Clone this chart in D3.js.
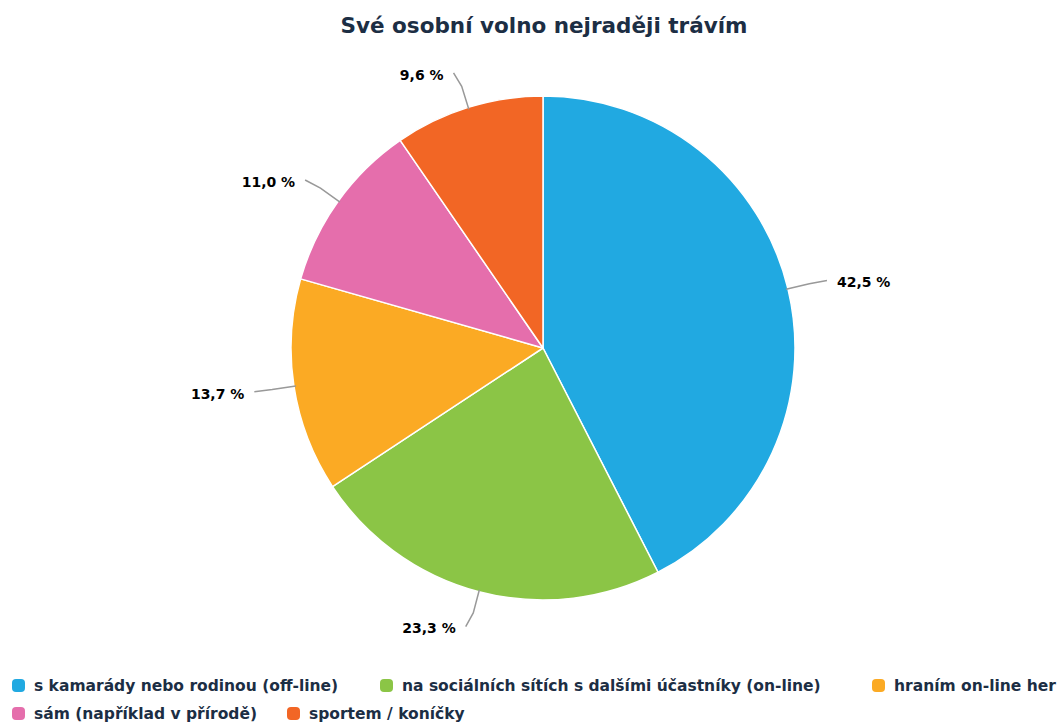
<html>
<head>
  <meta charset="utf-8">
  <title>Své osobní volno nejraději trávím</title>
  <script src="https://d3js.org/d3.v7.min.js" charset="utf-8"></script>
  <style>
    body { margin: 0; background: #fff; overflow: hidden; }
    text { font-family: "DejaVu Sans", sans-serif; font-weight: bold; }
  </style>
</head>
<body>
  <script>
    // data
    var categories = [
      "s kamarády nebo rodinou (off-line)",
      "na sociálních sítích s dalšími účastníky (on-line)",
      "hraním on-line her",
      "sám (například v přírodě)",
      "sportem / koníčky"
    ];
    var values = [42.5, 23.3, 13.7, 11.0, 9.6];
    var colors = ["#21a9e1", "#8bc546", "#fbaa24", "#e56eac", "#f26625"];

    // legend layout (rows break like the original, last row item overflows)
    var legendX = [12, 380, 872, 12, 287];
    var legendRow = [0, 0, 0, 1, 1];

    var width = 1061,
        height = 726;

    var svg = d3.select("body")
                .append("svg")
                .attr("width", width)
                .attr("height", height);

    svg.append("text")
       .attr("x", 544)
       .attr("y", 33)
       .attr("text-anchor", "middle")
       .attr("font-size", 21.5)
       .attr("fill", "#1c2e44")
       .text("Své osobní volno nejraději trávím");

    var cx = 543, cy = 348, r = 252;

    var pie = d3.pie()
                .sort(null)
                .value(function(d) { return d; });

    var arc = d3.arc()
                .innerRadius(0)
                .outerRadius(r);

    var arcs = pie(values);

    var g = svg.append("g")
               .attr("transform", "translate(" + cx + "," + cy + ")");

    g.selectAll(".slice")
     .data(arcs)
     .enter()
     .append("path")
     .attr("class", "slice")
     .attr("d", arc)
     .attr("fill", function(d, i) { return colors[i]; })
     .attr("stroke", "#fff")
     .attr("stroke-width", 1.5)
     .attr("stroke-linejoin", "round");

    function polar(a, rad) {
      return [rad * Math.sin(a), -rad * Math.cos(a)];
    }

    var fmt = function(v) { return d3.format(".1f")(v).replace(".", ",") + " %"; };

    // connectors + labels
    arcs.forEach(function(d, i) {
      var a = (d.startAngle + d.endAngle) / 2;
      var right = Math.sin(a) >= 0;
      var p0 = polar(a, r - 2);
      var p1 = polar(a, r + 22);
      var p2 = polar(a, r + 36);
      var endX = p2[0] + (right ? 4 : -4);
      var line = [p0, p1, [endX, p2[1]]];

      g.append("path")
       .attr("d", d3.line()(line))
       .attr("fill", "none")
       .attr("stroke", "#999")
       .attr("stroke-width", 1.5);

      g.append("text")
       .attr("x", endX + (right ? 10 : -10))
       .attr("y", p2[1] + 2)
       .attr("dy", "0.35em")
       .attr("text-anchor", right ? "start" : "end")
       .attr("font-size", 14)
       .attr("fill", "#000")
       .text(fmt(values[i]));
    });

    // legend
    var legend = svg.selectAll(".legend")
                    .data(categories)
                    .enter()
                    .append("g")
                    .attr("class", "legend")
                    .attr("transform", function(d, i) {
                      return "translate(" + legendX[i] + "," + (686 + legendRow[i] * 28) + ")";
                    });

    legend.append("rect")
          .attr("x", 0)
          .attr("y", -7)
          .attr("width", 13)
          .attr("height", 13)
          .attr("rx", 4)
          .attr("fill", function(d, i) { return colors[i]; });

    legend.append("text")
          .attr("x", 22)
          .attr("y", 0)
          .attr("dy", "0.35em")
          .attr("font-size", 15.5)
          .attr("fill", "#1c2e44")
          .text(function(d) { return d; });
  </script>
</body>
</html>
